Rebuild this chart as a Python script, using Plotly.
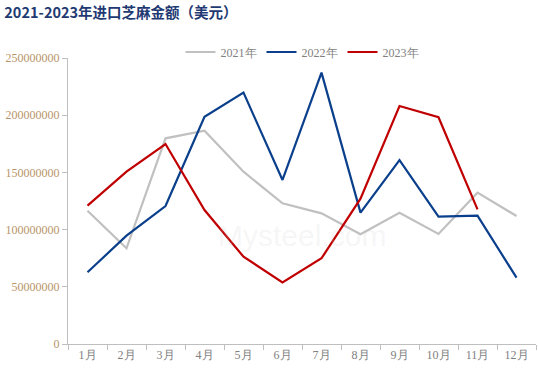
import plotly.graph_objects as go

months = ["1月", "2月", "3月", "4月", "5月", "6月", "7月", "8月", "9月", "10月", "11月", "12月"]
y2021 = [116.5e6, 83.6e6, 179.8e6, 186.5e6, 150.6e6, 123.0e6, 114.2e6, 95.9e6, 114.8e6, 96.2e6, 132.3e6, 111.9e6]
y2022 = [62.7e6, 94.7e6, 120.6e6, 198.7e6, 219.7e6, 143.4e6, 237.2e6, 114.8e6, 160.8e6, 111.3e6, 112.2e6, 58.0e6]
y2023 = [120.9e6, 150.6e6, 174.8e6, 117.1e6, 76.3e6, 53.9e6, 74.9e6, 127.0e6, 208.0e6, 198.2e6, 117.7e6]
series_names = ["2021年", "2022年", "2023年"]
yticks = [0, 50000000, 100000000, 150000000, 200000000, 250000000]

SERIF = "Liberation Serif, Times New Roman, serif"

fig = go.Figure()
fig.add_trace(go.Scatter(x=months, y=y2021, name=series_names[0], mode="lines",
                         line=dict(color="#C0C0C0", width=2.2)))
fig.add_trace(go.Scatter(x=months, y=y2022, name=series_names[1], mode="lines",
                         line=dict(color="#0A3F8C", width=2.2)))
fig.add_trace(go.Scatter(x=months[:len(y2023)], y=y2023, name=series_names[2], mode="lines",
                         line=dict(color="#C00000", width=2.2)))

fig.update_layout(
    width=538, height=378,
    margin=dict(l=68, r=2, t=58, b=34),
    plot_bgcolor="white", paper_bgcolor="white",
    title=dict(text="<b>2021-2023年进口芝麻金额（美元）</b>", x=0.008, xanchor="left",
               y=0.9656, yanchor="middle",
               font=dict(family="Noto Sans CJK SC", size=14.5, color="#1F3A73")),
    legend=dict(orientation="h", x=0.5, xanchor="center", y=1.021, yanchor="middle",
                font=dict(family=SERIF, size=12, color="#7F7F7F"),
                itemwidth=30, tracegroupgap=0),
    showlegend=True,
    annotations=[dict(text="Mysteel.com", x=0.5, y=0.38, xref="paper", yref="paper",
                      showarrow=False, font=dict(family="Arial", size=30, color="rgba(200,200,200,0.18)"))],
)
fig.update_xaxes(
    type="category", range=[-0.5, 11.5], showline=True, linecolor="#BFBFBF", linewidth=1,
    ticks="outside", tickson="boundaries", ticklen=5, tickcolor="#BFBFBF",
    showgrid=False,
    tickfont=dict(family=SERIF, size=12, color="#7F7F7F"),
)
fig.update_yaxes(
    range=[0, 250000000], tickvals=yticks, tickformat="d",
    showline=True, linecolor="#BFBFBF", linewidth=1,
    ticks="outside", ticklen=5, tickcolor="#BFBFBF",
    showgrid=False, zeroline=False,
    tickfont=dict(family=SERIF, size=12, color="#B8946A"),
)

fig.write_html("out.html", config={"displayModeBar": False},
               post_script="document.body.style.margin='0';document.body.style.overflow='hidden';")
